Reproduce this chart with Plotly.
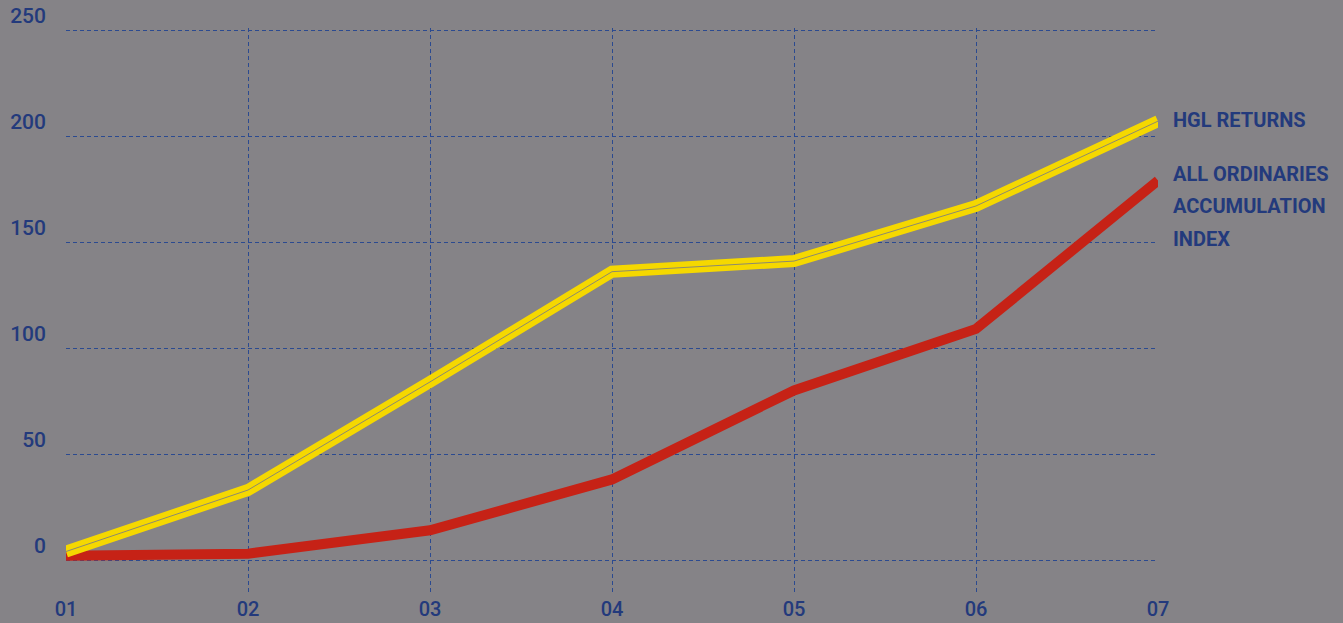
import plotly.graph_objects as go

years = ["01", "02", "03", "04", "05", "06", "07"]
hgl_returns = [4, 33, 84, 136, 141, 167, 207]
all_ords = [2, 3, 14, 38, 80, 109, 179]
y_ticks = [0, 50, 100, 150, 200, 250]
hgl_label = ["HGL RETURNS"]
aoi_label = ["ALL ORDINARIES", "ACCUMULATION", "INDEX"]

BG = "#858387"
BLUE = "#233a7c"
GRID = "#2b4a90"
YELLOW = "#f5d800"
RED = "#c62216"
FONT = "Roboto, sans-serif"

xs = list(range(len(years)))

fig = go.Figure()
fig.add_trace(go.Scatter(x=xs, y=all_ords, mode="lines",
                         line=dict(color=RED, width=10), hoverinfo="skip"))
fig.add_trace(go.Scatter(x=xs, y=hgl_returns, mode="lines",
                         line=dict(color=YELLOW, width=12), hoverinfo="skip"))
fig.add_trace(go.Scatter(x=xs, y=hgl_returns, mode="lines",
                         line=dict(color="#8c8a6e", width=1), hoverinfo="skip"))

# right-side labels
label_font = dict(family=FONT, size=20, color=BLUE, weight="bold")
for i, t in enumerate(hgl_label):
    fig.add_annotation(x=1, xref="paper", y=hgl_returns[-1], yref="y",
                       text=t, showarrow=False, xanchor="left", yanchor="middle",
                       xshift=13, yshift=1 - 32.5 * i, font=label_font)
for i, t in enumerate(aoi_label):
    fig.add_annotation(x=1, xref="paper", y=all_ords[-1], yref="y",
                       text=t, showarrow=False, xanchor="left", yanchor="middle",
                       xshift=13, yshift=7 - 32.5 * i, font=label_font)

fig.update_layout(
    width=1343, height=623,
    margin=dict(l=66, r=185, t=28, b=28, autoexpand=False),
    paper_bgcolor=BG, plot_bgcolor=BG,
    showlegend=False,
    xaxis=dict(range=[0, 6], tickvals=xs, ticktext=years, automargin=False,
               showgrid=True, gridcolor=GRID, gridwidth=1, griddash="4px,3px",
               zeroline=False, showline=False, ticks="", ticklabelstandoff=0,
               tickfont=dict(family=FONT, size=20, color=BLUE, weight=500)),
    yaxis=dict(range=[-16.51, 250.943], tickvals=y_ticks, automargin=False,
               showgrid=True, gridcolor=GRID, gridwidth=1, griddash="4px,3px",
               zeroline=False, showline=False, ticks="",
               ticklabelposition="outside top", ticklabelstandoff=19,
               tickfont=dict(family=FONT, size=21, color=BLUE, weight=500)),
)

fig.write_html("out.html")
